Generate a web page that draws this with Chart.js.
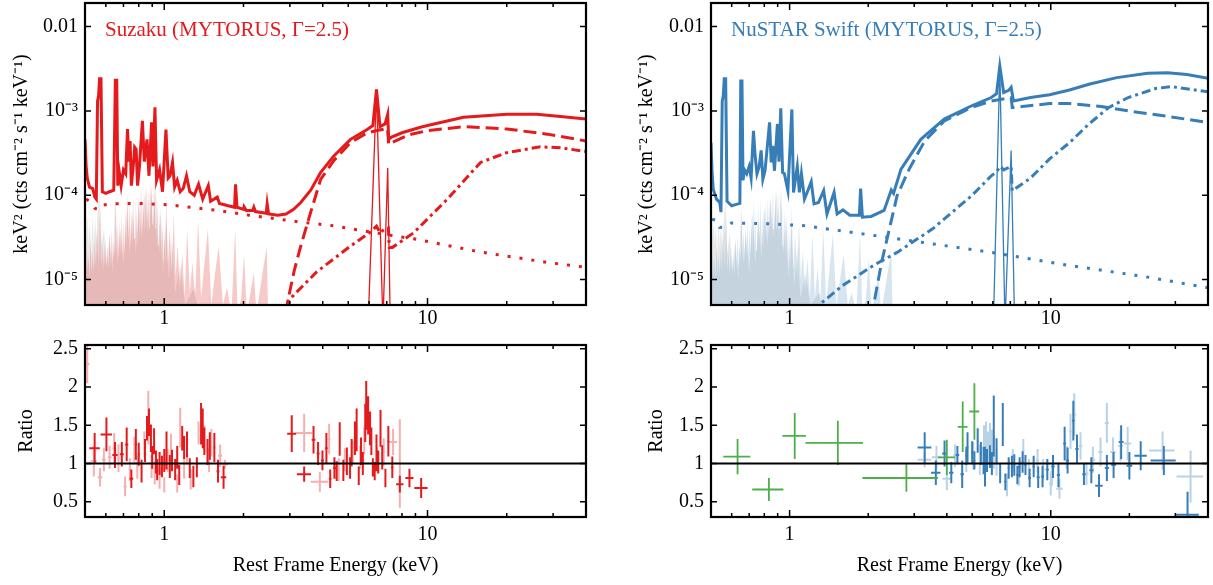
<!DOCTYPE html>
<html>
<head>
<meta charset="utf-8">
<script src="https://cdn.jsdelivr.net/npm/chart.js@4.4.1/dist/chart.umd.min.js"></script>
<style>
body{margin:0;background:#fff;width:1213px;height:585px;position:relative;overflow:hidden}
.box{position:absolute}
</style>
</head>
<body>
<div class="box" style="left:0;top:0;width:600px;height:335px"><canvas id="suzTop"></canvas></div>
<div class="box" style="left:0;top:335px;width:600px;height:250px"><canvas id="suzRatio"></canvas></div>
<div class="box" style="left:610px;top:0;width:603px;height:335px"><canvas id="nuTop"></canvas></div>
<div class="box" style="left:610px;top:335px;width:603px;height:250px"><canvas id="nuRatio"></canvas></div>
<script>
// axis ranges and ticks
const xRange = [0.5, 40];
const fluxRange = [5e-6, 0.019];
const ratioRange = [0.3, 2.55];
const xTicks = [0.5,0.6,0.7,0.8,0.9,1,2,3,4,5,6,7,8,9,10,20,30,40];
const fluxTicks = [1e-5,1e-4,1e-3,1e-2];
const fluxLabels = ['10⁻⁵','10⁻⁴','10⁻³','0.01'];
const ratioTicks = [0.5,1,1.5,2,2.5];

// Suzaku model components [keV, flux]
const suzTotal = [[0.500,4.6e-4],[0.505,2.2e-4],[0.510,1.6e-4],[0.520,1.25e-4],[0.535,1.2e-4],[0.545,9.5e-5],[0.552,9e-5],[0.558,1.3e-3],[0.563,1.5e-3],[0.568,2.4e-3],[0.575,2.4e-3],[0.582,1.1e-4],[0.600,1.05e-4],[0.620,1.1e-4],[0.643,1.15e-4],[0.652,2.3e-3],[0.660,2.3e-3],[0.666,1.3e-4],[0.673,2.0e-4],[0.686,1.3e-4],[0.700,2.0e-4],[0.714,1.8e-4],[0.725,6.1e-4],[0.735,2.5e-4],[0.742,4.4e-4],[0.750,1.3e-4],[0.765,2.5e-4],[0.772,3.7e-4],[0.782,3.5e-4],[0.792,1.3e-4],[0.805,2.2e-4],[0.826,7.6e-4],[0.840,2.5e-4],[0.860,4.6e-4],[0.875,1.7e-4],[0.895,7.3e-4],[0.906,2.2e-4],[0.922,1.1e-3],[0.935,1.5e-4],[0.960,2.0e-4],[0.985,1.1e-4],[1.015,6.0e-4],[1.035,1.6e-4],[1.052,1.7e-4],[1.075,2.45e-4],[1.095,1.25e-4],[1.120,1.5e-4],[1.150,1.1e-4],[1.180,1.2e-4],[1.215,1.7e-4],[1.250,1.1e-4],[1.300,1.0e-4],[1.350,1.35e-4],[1.400,9e-5],[1.470,1.3e-4],[1.500,8.5e-5],[1.590,9.5e-5],[1.620,8e-5],[1.750,7.5e-5],[1.850,7.2e-5],[1.865,1.35e-4],[1.890,7.2e-5],[2.000,6.8e-5],[2.010,7.3e-5],[2.050,6.6e-5],[2.170,6.6e-5],[2.190,7.2e-5],[2.220,6.4e-5],[2.440,6.1e-5],[2.460,7.9e-5],[2.490,6e-5],[2.700,5.8e-5],[2.900,6e-5],[3.100,6.8e-5],[3.300,8.2e-5],[3.600,1.15e-4],[3.930,1.87e-4],[4.400,2.9e-4],[5.100,4.6e-4],[5.900,6e-4],[6.200,6.7e-4],[6.400,1.8e-3],[6.600,6.5e-4],[6.900,7.0e-4],[7.060,9.1e-4],[7.120,4.6e-4],[7.300,4.9e-4],[8.000,5.5e-4],[9.400,6.4e-4],[10.00,6.7e-4],[13.70,8.4e-4],[20.00,9.1e-4],[26.00,9.1e-4],[32.00,8.6e-4],[40.00,8e-4]];
const suzDash = [[2.90,4e-6],[2.94,5.4e-6],[3.11,1.24e-5],[3.30,2.5e-5],[3.60,6.3e-5],[3.93,1.55e-4],[4.42,2.6e-4],[5.10,4.2e-4],[5.90,5.5e-4],[6.50,5.9e-4],[7.05,6.2e-4],[7.12,4.0e-4],[7.30,4.2e-4],[8.50,5.2e-4],[9.90,5.8e-4],[13.7,6.5e-4],[20.0,6.1e-4],[28.5,5.3e-4],[40.0,4.4e-4]];
const suzDashDot = [[2.95,4.5e-6],[2.97,5.7e-6],[3.80,1.24e-5],[5.10,2.5e-5],[6.10,3.7e-5],[6.40,4.3e-5],[6.60,3.6e-5],[6.90,4.0e-5],[7.10,4.1e-5],[7.16,2.4e-5],[7.35,2.4e-5],[8.87,3.6e-5],[11.9,9.0e-5],[15.9,2.45e-4],[20.0,3.2e-4],[26.8,3.75e-4],[32.0,3.65e-4],[40.0,3.3e-4]];
const suzDot = [[0.505,9e-5],[0.520,8.5e-5],[0.545,7e-5],[0.560,6.8e-5],[0.575,7.6e-5],[0.630,7.9e-5],[0.800,8e-5],[1.040,7.7e-5],[1.600,6.6e-5],[2.100,5.8e-5],[3.300,4.8e-5],[4.400,4.35e-5],[7.900,3.2e-5],[8.870,3.05e-5],[15.90,2.12e-5],[28.50,1.6e-5],[40.00,1.4e-5]];
const suzFe = [[5.95,3e-6],[6.40,1.75e-3],[6.77,3e-6],[7.06,2.1e-4],[7.22,3e-6]];
const suzGray = [[0.500,5e-5],[0.503,9e-5],[0.507,3e-5],[0.512,6e-5],[0.517,2.5e-5],[0.522,5e-5],[0.528,2e-5],[0.534,6e-5],[0.540,2.5e-5],[0.546,5.5e-5],[0.552,3e-5],[0.560,7e-5],[0.568,1.2e-4],[0.576,2.5e-5],[0.590,4e-5],[0.605,1.5e-5],[0.620,3.5e-5],[0.636,1.2e-5],[0.652,1e-4],[0.664,1.5e-5],[0.680,4e-5],[0.700,1.5e-5],[0.722,8e-5],[0.738,2e-5],[0.760,6e-5],[0.780,2e-5],[0.800,9e-5],[0.822,3e-5],[0.845,1.1e-4],[0.865,3.5e-5],[0.890,1.3e-4],[0.910,4e-5],[0.925,1.4e-4],[0.945,2.5e-5],[0.970,7e-5],[0.990,1.2e-5],[1.015,6e-5],[1.040,1e-5],[1.070,3e-5],[1.100,7e-6],[1.150,1.5e-5],[1.200,5e-6],[1.300,8e-6],[1.350,4e-6]];
const suzPink = [[0.500,2e-5],[0.504,1.2e-5],[0.508,2.5e-5],[0.512,1.3e-5],[0.516,2e-5],[0.520,1.1e-5],[0.525,3e-5],[0.530,1.2e-5],[0.535,2.2e-5],[0.540,1.2e-5],[0.545,3e-5],[0.550,1.4e-5],[0.556,4e-5],[0.562,1.5e-5],[0.566,6e-5],[0.570,1.6e-5],[0.574,8e-5],[0.578,1.4e-5],[0.584,2.5e-5],[0.590,1.3e-5],[0.596,3e-5],[0.602,1.4e-5],[0.608,2.5e-5],[0.614,1.3e-5],[0.620,3.5e-5],[0.626,1.5e-5],[0.632,4e-5],[0.638,1.6e-5],[0.644,3e-5],[0.650,1.8e-5],[0.655,9e-5],[0.660,2e-5],[0.666,4.5e-5],[0.672,1.8e-5],[0.678,5e-5],[0.684,2e-5],[0.690,6e-5],[0.696,2e-5],[0.702,5e-5],[0.708,2e-5],[0.714,7e-5],[0.720,2.5e-5],[0.726,1.1e-4],[0.732,3e-5],[0.738,8e-5],[0.744,2.5e-5],[0.750,7e-5],[0.756,2.5e-5],[0.762,9e-5],[0.768,3e-5],[0.774,1e-4],[0.780,3e-5],[0.786,7e-5],[0.792,2.5e-5],[0.798,9e-5],[0.804,3e-5],[0.810,1.1e-4],[0.816,3.5e-5],[0.822,1.2e-4],[0.828,4e-5],[0.834,1e-4],[0.840,3.5e-5],[0.846,1.3e-4],[0.852,4e-5],[0.858,1.4e-4],[0.864,5e-5],[0.870,1.2e-4],[0.876,4e-5],[0.882,1.5e-4],[0.888,5e-5],[0.894,1.5e-4],[0.900,4.5e-5],[0.906,1.3e-4],[0.912,5e-5],[0.918,1.5e-4],[0.924,4e-5],[0.930,1.4e-4],[0.936,3e-5],[0.942,9e-5],[0.948,2.5e-5],[0.955,8e-5],[0.962,2e-5],[0.970,6e-5],[0.978,1.8e-5],[0.986,5e-5],[0.994,1.5e-5],[1.002,4e-5],[1.010,1.5e-5],[1.018,9e-5],[1.032,1.5e-5],[1.050,4e-5],[1.068,1.2e-5],[1.086,6e-5],[1.104,1.1e-5],[1.124,2.5e-5],[1.146,8e-6],[1.170,2e-5],[1.196,6e-6],[1.222,4e-5],[1.250,7e-6],[1.280,1.6e-5],[1.310,6e-6],[1.345,5e-5],[1.380,6e-6],[1.420,1.5e-5],[1.465,4e-5],[1.510,5e-6],[1.560,1.2e-5],[1.610,2.5e-5],[1.670,5e-6],[1.730,8e-6],[1.800,4e-6],[1.860,4e-5],[1.900,4e-6],[1.960,6e-6],[2.010,2e-5],[2.060,4e-6],[2.190,1.2e-5],[2.240,4e-6],[2.450,2.5e-5],[2.480,4e-6],[2.600,4e-6]];

// NuSTAR/Swift model components [keV, flux]
const nuTotal = [[0.500,4.2e-4],[0.505,1.8e-4],[0.510,1.18e-4],[0.525,9e-5],[0.540,8.2e-5],[0.546,6.3e-5],[0.552,1.3e-3],[0.557,1.5e-3],[0.562,2.4e-3],[0.569,2.4e-3],[0.576,8.5e-5],[0.600,7.5e-5],[0.625,7.8e-5],[0.645,8e-5],[0.650,2.26e-3],[0.657,2.26e-3],[0.663,1.5e-4],[0.672,2.0e-4],[0.685,1.8e-4],[0.700,2.2e-4],[0.712,1.6e-4],[0.727,5.8e-4],[0.737,3.1e-4],[0.750,1.8e-4],[0.765,2.2e-4],[0.778,3.4e-4],[0.790,1.55e-4],[0.805,1.95e-4],[0.838,7.3e-4],[0.850,2.45e-4],[0.862,3.85e-4],[0.875,1.95e-4],[0.898,7e-4],[0.910,2.5e-4],[0.925,1.07e-3],[0.940,1.86e-4],[0.955,1.8e-4],[0.985,1.13e-4],[1.020,1.04e-3],[1.035,1.08e-4],[1.070,2.2e-4],[1.090,1.08e-4],[1.110,1.8e-4],[1.140,9e-5],[1.170,1.1e-4],[1.210,1.45e-4],[1.240,7.9e-5],[1.290,8.2e-5],[1.350,1.13e-4],[1.390,6e-5],[1.480,1.08e-4],[1.520,6e-5],[1.600,6.7e-5],[1.700,5.8e-5],[1.850,5.8e-5],[1.870,1.2e-4],[1.900,5.5e-5],[2.050,5.6e-5],[2.300,6.6e-5],[2.450,1.15e-4],[2.500,1.05e-4],[2.670,2.04e-4],[3.180,4.6e-4],[3.910,8e-4],[4.980,1.15e-3],[5.920,1.44e-3],[6.200,1.6e-3],[6.380,3.4e-3],[6.600,1.65e-3],[6.900,1.75e-3],[7.050,1.9e-3],[7.200,1.31e-3],[8.370,1.44e-3],[9.900,1.55e-3],[11.80,1.77e-3],[14.00,2.07e-3],[17.90,2.48e-3],[23.50,2.79e-3],[28.00,2.83e-3],[33.20,2.7e-3],[40.00,2.44e-3]];
const nuDash = [[2.05,3.5e-6],[2.10,5.1e-6],[2.25,1.6e-5],[2.41,4e-5],[2.58,9.9e-5],[2.87,2.04e-4],[3.29,4.4e-4],[3.91,7.6e-4],[4.98,1.1e-3],[5.92,1.31e-3],[7.05,1.44e-3],[7.12,1.1e-3],[7.20,1.1e-3],[9.90,1.22e-3],[11.8,1.22e-3],[15.6,1.13e-3],[19.8,1e-3],[28.0,8.6e-4],[40.0,7.3e-4]];
const nuDashDot = [[1.25,4e-6],[1.295,5e-6],[1.594,8.5e-6],[2.10,1.48e-5],[2.58,2.1e-5],[3.53,4e-5],[4.98,9.9e-5],[5.92,1.7e-4],[6.20,1.9e-4],[6.40,2.2e-4],[6.60,2.0e-4],[7.05,2.2e-4],[7.12,1.13e-4],[8.37,1.6e-4],[9.90,2.7e-4],[11.8,4.2e-4],[14.0,7e-4],[16.7,1.1e-3],[19.8,1.44e-3],[25.2,1.84e-3],[29.0,1.94e-3],[40.0,1.68e-3]];
const nuDot = [[0.505,5.2e-5],[0.528,5e-5],[0.540,4.15e-5],[0.560,4.2e-5],[0.600,4.7e-5],[0.826,4.6e-5],[1.125,4.37e-5],[1.770,3.6e-5],[2.960,2.87e-5],[5.920,2.1e-5],[11.80,1.47e-5],[23.50,1.07e-5],[40.00,8e-6]];
const nuFe = [[6.03,3e-6],[6.38,3.3e-3],[6.68,3e-6],[7.05,3.4e-4],[7.27,3e-6]];
const nuGray = [[0.500,5e-5],[0.503,8e-5],[0.507,3e-5],[0.512,5e-5],[0.517,2.5e-5],[0.522,4.5e-5],[0.528,2e-5],[0.534,5e-5],[0.540,2.5e-5],[0.546,4.5e-5],[0.552,2.5e-5],[0.560,5e-5],[0.568,9e-5],[0.576,2e-5],[0.590,3.5e-5],[0.605,1.2e-5],[0.620,3e-5],[0.636,1e-5],[0.652,7e-5],[0.664,1.5e-5],[0.680,3.5e-5],[0.700,1.2e-5],[0.722,6e-5],[0.738,1.5e-5],[0.760,5e-5],[0.780,1.8e-5],[0.800,7e-5],[0.822,2.5e-5],[0.845,9e-5],[0.865,3e-5],[0.890,1.1e-4],[0.910,3e-5],[0.925,1.2e-4],[0.945,2e-5],[0.970,6e-5],[0.990,1e-5],[1.015,5e-5],[1.040,8e-6],[1.070,2.5e-5],[1.100,6e-6],[1.150,1.2e-5],[1.200,5e-6],[1.300,7e-6],[1.350,4e-6]];
const nuBlue = [[0.500,1.8e-5],[0.504,1e-5],[0.508,2.2e-5],[0.512,1.1e-5],[0.516,1.8e-5],[0.520,1e-5],[0.525,2.5e-5],[0.530,1.1e-5],[0.535,2e-5],[0.540,1.1e-5],[0.545,2.5e-5],[0.550,1.2e-5],[0.556,3.5e-5],[0.562,1.3e-5],[0.566,5e-5],[0.570,1.4e-5],[0.574,6.5e-5],[0.578,1.2e-5],[0.584,2.2e-5],[0.590,1.1e-5],[0.596,2.5e-5],[0.602,1.2e-5],[0.608,2.2e-5],[0.614,1.1e-5],[0.620,3e-5],[0.626,1.3e-5],[0.632,3.5e-5],[0.638,1.4e-5],[0.644,2.5e-5],[0.650,1.5e-5],[0.655,7.5e-5],[0.660,1.8e-5],[0.666,4e-5],[0.672,1.6e-5],[0.678,4.5e-5],[0.684,1.8e-5],[0.690,5e-5],[0.696,1.8e-5],[0.702,4.5e-5],[0.708,1.8e-5],[0.714,6e-5],[0.720,2.2e-5],[0.726,9e-5],[0.732,2.5e-5],[0.738,7e-5],[0.744,2.2e-5],[0.750,6e-5],[0.756,2.2e-5],[0.762,8e-5],[0.768,2.5e-5],[0.774,9e-5],[0.780,2.5e-5],[0.786,6e-5],[0.792,2.2e-5],[0.798,8e-5],[0.804,2.5e-5],[0.810,9e-5],[0.816,3e-5],[0.822,1e-4],[0.828,3.5e-5],[0.834,9e-5],[0.840,3e-5],[0.846,1.1e-4],[0.852,3.5e-5],[0.858,1.2e-4],[0.864,4e-5],[0.870,1.1e-4],[0.876,3.5e-5],[0.882,1.25e-4],[0.888,4e-5],[0.894,1.25e-4],[0.900,4e-5],[0.906,1.1e-4],[0.912,4e-5],[0.918,1.2e-4],[0.924,3.5e-5],[0.930,1.2e-4],[0.936,2.5e-5],[0.942,8e-5],[0.948,2.2e-5],[0.955,7e-5],[0.962,1.8e-5],[0.970,5e-5],[0.978,1.6e-5],[0.986,4.5e-5],[0.994,1.3e-5],[1.002,3.5e-5],[1.010,1.3e-5],[1.018,8e-5],[1.032,1.3e-5],[1.050,3.5e-5],[1.068,1e-5],[1.086,5e-5],[1.104,1e-5],[1.124,2.2e-5],[1.146,7e-6],[1.170,1.8e-5],[1.196,6e-6],[1.222,3.5e-5],[1.250,6e-6],[1.280,1.4e-5],[1.310,5e-6],[1.345,4e-5],[1.380,5e-6],[1.420,1.3e-5],[1.465,3.5e-5],[1.510,5e-6],[1.560,1e-5],[1.610,2e-5],[1.670,5e-6],[1.730,7e-6],[1.800,4e-6],[1.860,3.5e-5],[1.900,4e-6],[1.960,6e-6],[2.010,1.8e-5],[2.060,4e-6],[2.190,1.1e-5],[2.240,4e-6],[2.450,2.2e-5],[2.480,4e-6],[2.600,4e-6]];

// ratio points [keV, keV half-width, ratio, ratio error]
const xisDark = [[0.544,0.025,1.20,0.20],[0.603,0.030,1.38,0.22],[0.650,0.015,1.11,0.17],[0.690,0.012,1.12,0.16],[0.720,0.010,1.25,0.22],[0.750,0.012,0.80,0.12],[0.780,0.008,1.25,0.20],[0.800,0.008,1.12,0.15],[0.820,0.006,0.90,0.15],[0.845,0.005,1.17,0.15],[0.860,0.004,1.46,0.16],[0.875,0.004,1.54,0.18],[0.890,0.004,1.33,0.18],[0.900,0.004,1.08,0.15],[0.915,0.004,1.29,0.17],[0.930,0.004,1.02,0.15],[0.940,0.004,0.92,0.14],[0.960,0.005,1.00,0.15],[0.980,0.005,0.96,0.14],[1.000,0.005,1.04,0.15],[1.020,0.006,1.17,0.25],[1.050,0.006,0.96,0.15],[1.070,0.006,1.04,0.14],[1.100,0.007,0.92,0.14],[1.120,0.007,1.08,0.15],[1.140,0.007,0.85,0.13],[1.170,0.007,1.33,0.16],[1.190,0.008,1.21,0.15],[1.220,0.008,1.25,0.17],[1.250,0.008,0.94,0.13],[1.290,0.010,0.83,0.14],[1.330,0.010,0.95,0.13],[1.380,0.008,1.52,0.27],[1.400,0.008,1.46,0.26],[1.420,0.010,1.29,0.18],[1.460,0.010,1.15,0.17],[1.490,0.012,1.23,0.18],[1.550,0.015,1.21,0.19],[1.600,0.020,0.90,0.15],[1.680,0.040,0.82,0.15],[3.05,0.12,1.39,0.24],[3.40,0.21,0.86,0.10],[3.69,0.06,1.31,0.18],[3.84,0.05,1.13,0.15],[3.99,0.05,1.04,0.13],[4.13,0.05,1.20,0.20],[4.27,0.05,0.80,0.12],[4.43,0.05,0.94,0.14],[4.52,0.04,0.90,0.13],[4.64,0.04,1.32,0.22],[4.79,0.04,0.91,0.14],[4.94,0.04,1.03,0.18],[5.08,0.04,0.94,0.14],[5.15,0.04,1.14,0.18],[5.30,0.04,1.33,0.22],[5.38,0.04,1.44,0.28],[5.48,0.04,0.84,0.12],[5.59,0.04,1.16,0.18],[5.68,0.04,1.00,0.15],[5.80,0.04,1.53,0.25],[5.85,0.04,1.76,0.32],[5.95,0.04,1.63,0.25],[6.05,0.04,1.46,0.22],[6.12,0.04,1.29,0.18],[6.20,0.04,0.95,0.12],[6.30,0.04,0.90,0.12],[6.40,0.05,1.14,0.24],[6.50,0.05,1.02,0.15],[6.63,0.05,1.46,0.24],[6.73,0.05,1.08,0.16],[6.92,0.06,0.81,0.12],[7.10,0.07,1.29,0.20],[7.35,0.08,0.95,0.14],[7.85,0.25,0.73,0.11],[8.54,0.30,0.81,0.12],[9.46,0.55,0.68,0.13]];
const xisLight = [[0.510,0.010,2.30,0.25],[0.540,0.015,1.03,0.20],[0.570,0.012,0.82,0.12],[0.590,0.010,1.05,0.15],[0.620,0.010,1.08,0.15],[0.645,0.010,1.20,0.20],[0.670,0.008,1.07,0.18],[0.710,0.010,0.70,0.13],[0.740,0.008,0.92,0.15],[0.770,0.008,1.17,0.18],[0.790,0.008,0.95,0.15],[0.840,0.006,1.25,0.17],[0.870,0.005,1.60,0.35],[0.895,0.005,0.96,0.15],[0.920,0.005,0.88,0.15],[0.960,0.006,0.81,0.14],[1.000,0.006,0.72,0.10],[1.030,0.006,1.04,0.15],[1.060,0.006,1.21,0.18],[1.120,0.007,0.74,0.12],[1.150,0.007,1.47,0.26],[1.190,0.008,0.94,0.14],[1.220,0.008,1.15,0.16],[1.260,0.010,0.79,0.13],[1.350,0.010,1.40,0.15],[1.420,0.010,1.33,0.17],[1.480,0.012,1.04,0.15],[1.510,0.012,1.27,0.18],[1.630,0.030,1.10,0.15],[1.700,0.050,0.99,0.06],[3.40,0.25,1.40,0.25],[3.90,0.30,0.76,0.13],[4.23,0.05,1.32,0.20],[4.60,0.05,0.92,0.15],[4.85,0.05,1.05,0.15],[5.20,0.05,1.15,0.15],[5.30,0.05,1.26,0.15],[5.55,0.05,1.08,0.15],[5.75,0.05,1.30,0.18],[6.43,0.06,1.06,0.15],[6.82,0.08,1.15,0.18],[7.40,0.25,1.28,0.17],[7.85,0.10,1.00,0.58]];
const fpmaPts = [[3.29,0.20,1.21,0.20],[3.63,0.15,0.88,0.16],[3.92,0.08,1.13,0.17],[4.16,0.08,0.88,0.14],[4.39,0.07,1.11,0.12],[4.58,0.07,0.86,0.18],[4.75,0.05,1.10,0.12],[4.80,0.05,1.21,0.20],[5.00,0.05,1.14,0.15],[5.10,0.05,1.04,0.12],[5.25,0.05,1.30,0.16],[5.40,0.05,1.13,0.15],[5.53,0.05,1.04,0.18],[5.60,0.05,0.96,0.26],[5.70,0.05,1.04,0.15],[5.85,0.05,1.09,0.15],[5.95,0.05,1.00,0.15],[6.05,0.05,1.49,0.40],[6.20,0.05,1.17,0.16],[6.40,0.06,0.87,0.13],[6.55,0.06,1.51,0.28],[6.70,0.07,0.76,0.11],[6.90,0.07,0.94,0.14],[7.10,0.07,0.96,0.14],[7.25,0.07,0.98,0.14],[7.45,0.08,0.85,0.12],[7.60,0.08,0.95,0.13],[7.80,0.08,1.02,0.14],[8.00,0.09,0.98,0.13],[8.30,0.10,0.81,0.12],[8.60,0.10,0.96,0.14],[8.95,0.12,0.82,0.14],[9.30,0.12,0.83,0.14],[9.70,0.13,0.92,0.14],[10.2,0.15,0.96,0.15],[10.7,0.15,0.85,0.16],[11.3,0.15,1.26,0.22],[11.6,0.15,1.04,0.17],[12.2,0.15,1.56,0.26],[12.6,0.18,1.19,0.19],[13.4,0.20,0.86,0.14],[14.3,0.25,0.91,0.17],[15.3,0.50,0.71,0.15],[16.4,0.30,0.94,0.17],[17.4,0.35,0.98,0.17],[18.6,0.40,1.28,0.22],[20.0,0.50,0.97,0.18],[22.1,1.20,1.10,0.19],[27.1,3.00,1.04,0.19],[33.4,3.50,0.33,0.30]];
const fpmbPts = [[3.29,0.20,1.05,0.10],[3.65,0.15,1.08,0.15],[4.00,0.15,0.80,0.15],[4.30,0.07,1.10,0.15],[4.75,0.05,1.04,0.15],[5.05,0.05,1.10,0.18],[5.35,0.05,1.05,0.20],[5.55,0.04,1.25,0.25],[5.65,0.04,1.30,0.25],[5.75,0.04,1.20,0.22],[5.85,0.04,1.28,0.25],[5.95,0.04,1.22,0.22],[6.05,0.04,1.15,0.22],[6.20,0.05,1.02,0.18],[6.80,0.07,0.72,0.15],[7.15,0.07,1.04,0.15],[7.55,0.08,0.85,0.14],[7.85,0.08,1.17,0.15],[8.25,0.10,0.92,0.14],[8.90,0.12,1.04,0.15],[9.35,0.12,0.92,0.14],[10.0,0.14,0.74,0.16],[10.1,0.15,0.85,0.14],[10.8,0.30,0.67,0.13],[11.5,0.15,1.08,0.15],[11.9,0.15,1.42,0.23],[12.3,0.20,1.64,0.28],[13.0,0.20,1.23,0.18],[13.7,0.25,0.87,0.15],[14.5,0.30,1.05,0.17],[15.5,0.30,1.15,0.19],[16.4,0.30,1.53,0.26],[17.3,0.40,1.15,0.19],[18.5,0.40,1.23,0.20],[19.7,0.60,1.26,0.22],[26.8,3.00,1.17,0.25],[34.3,4.00,0.83,0.34]];
const xrtPts = [[0.632,0.075,1.09,0.23],[0.833,0.114,0.66,0.15],[1.046,0.108,1.36,0.30],[1.53,0.38,1.27,0.29],[2.80,0.90,0.81,0.18],[4.00,0.30,1.08,0.23],[4.60,0.20,1.48,0.33],[5.10,0.22,1.68,0.37]];

const FONT = "'Liberation Serif', 'Times New Roman', Times, serif";
const RED = '#e41a1c', RED_LT = 'rgba(228,26,28,0.35)';
const BLUE = '#377eb8', BLUE_LT = 'rgba(55,126,184,0.35)';
const GREEN = '#4daf4a';
Chart.defaults.font.family = FONT;
Chart.defaults.color = '#000';

const xy = pairs => pairs.map(([x, y]) => ({x, y}));

// each point becomes a horizontal and a vertical segment, broken by nulls
function crosses(rows) {
  const out = [];
  rows.forEach(([e, de, r, dr]) => {
    out.push({x: e - de, y: r}, {x: e + de, y: r}, {x: e, y: null},
             {x: e, y: r - dr}, {x: e, y: r + dr}, {x: e, y: null});
  });
  return out;
}

function line(data, color, width, dash) {
  return {data, borderColor: color, borderWidth: width, borderDash: dash || [],
          pointRadius: 0, fill: false, tension: 0, borderCapStyle: 'butt'};
}
function area(data, color) {
  return {data, borderColor: 'rgba(0,0,0,0)', borderWidth: 0, backgroundColor: color,
          pointRadius: 0, fill: 'start', tension: 0};
}

// inward minor/major ticks and a closed frame, like the original plots
const frameTicks = {
  id: 'frameTicks',
  afterDatasetsDraw(chart) {
    const {ctx, chartArea: a, scales: {x, y}} = chart;
    ctx.save();
    ctx.strokeStyle = '#000';
    ctx.lineWidth = 1.5;
    ctx.beginPath();
    x.ticks.forEach(t => {
      const p = x.getPixelForValue(t.value);
      const l = t.label ? 7 : 4;
      ctx.moveTo(p, a.bottom); ctx.lineTo(p, a.bottom - l);
      ctx.moveTo(p, a.top); ctx.lineTo(p, a.top + l);
    });
    y.ticks.forEach(t => {
      const p = y.getPixelForValue(t.value);
      ctx.moveTo(a.left, p); ctx.lineTo(a.left + 6, p);
      ctx.moveTo(a.right, p); ctx.lineTo(a.right - 6, p);
    });
    ctx.stroke();
    ctx.lineWidth = 2.2;
    ctx.strokeRect(a.left, a.top, a.width, a.height);
    ctx.restore();
  }
};

const panelLabel = {
  id: 'panelLabel',
  afterDraw(chart, args, o) {
    if (!o.text) return;
    const {ctx, chartArea: a} = chart;
    ctx.save();
    ctx.font = '21px ' + FONT;
    ctx.fillStyle = o.color;
    ctx.textBaseline = 'alphabetic';
    ctx.fillText(o.text, a.left + 20, a.top + 33);
    ctx.restore();
  }
};

function xScale(bottomPanel) {
  return {
    type: 'logarithmic', min: xRange[0], max: xRange[1],
    afterBuildTicks: s => { s.ticks = xTicks.map(v => ({value: v})); },
    afterFit: s => { s.height = bottomPanel ? 68 : 30; s.paddingLeft = 0; s.paddingRight = 0; },
    grid: {display: false, drawTicks: false}, border: {display: false},
    ticks: {autoSkip: false, maxRotation: 0, padding: bottomPanel ? 6 : 2, font: {size: 20},
      callback: v => (v === 1 ? '1' : v === 10 ? '10' : '')},
    title: {display: bottomPanel, text: 'Rest Frame Energy (keV)', font: {size: 20}, padding: {top: 0, bottom: 7}}
  };
}

function yFlux(width, titlePad) {
  return {
    type: 'logarithmic', min: fluxRange[0], max: fluxRange[1],
    afterBuildTicks: s => { s.ticks = fluxTicks.map(v => ({value: v})); },
    afterFit: s => { s.width = width; s.paddingTop = 0; s.paddingBottom = 0; },
    grid: {display: false, drawTicks: false}, border: {display: false},
    ticks: {padding: 7, font: {size: 20}, callback: v => fluxLabels[fluxTicks.indexOf(v)]},
    title: {display: true, text: 'keV² (cts cm⁻² s⁻¹ keV⁻¹)', font: {size: 20}, padding: {top: titlePad, bottom: 0}}
  };
}

function yRatio(width, titlePad) {
  return {
    type: 'linear', min: ratioRange[0], max: ratioRange[1],
    afterBuildTicks: s => { s.ticks = ratioTicks.map(v => ({value: v})); },
    afterFit: s => { s.width = width; s.paddingTop = 0; s.paddingBottom = 0; },
    grid: {display: false, drawTicks: false}, border: {display: false},
    ticks: {padding: 7, font: {size: 20}, callback: v => String(v)},
    title: {display: true, text: 'Ratio', font: {size: 20}, padding: {top: titlePad, bottom: 0}}
  };
}

function makeChart(id, datasets, scales, padding, label) {
  return new Chart(document.getElementById(id), {
    type: 'line',
    data: {datasets},
    options: {
      responsive: true, maintainAspectRatio: false, animation: false, events: [],
      parsing: true, spanGaps: false,
      layout: {padding},
      scales,
      plugins: {legend: {display: false}, tooltip: {enabled: false},
                panelLabel: label || {}}
    },
    plugins: [frameTicks, panelLabel]
  });
}

const unity = [{x: xRange[0], y: 1}, {x: xRange[1], y: 1}];

makeChart('suzTop', [
  line(xy(suzTotal), RED, 3),
  line(xy(suzFe), RED, 1.3),
  line(xy(suzDash), RED, 3, [13, 6]),
  line(xy(suzDashDot), RED, 3, [9, 4, 3, 4]),
  line(xy(suzDot), RED, 3, [3, 9]),
  area(xy(suzPink), 'rgba(230,60,60,0.28)'),
  area(xy(suzGray), 'rgba(150,150,150,0.22)')
], {x: xScale(false), y: yFlux(85, 10)}, {left: 0, top: 3, right: 14, bottom: 0},
  {text: 'Suzaku (MYTORUS, Γ=2.5)', color: RED});

makeChart('suzRatio', [
  line(unity, '#000', 1.8),
  line(crosses(xisDark), RED, 2),
  line(crosses(xisLight), RED_LT, 2)
], {x: xScale(true), y: yRatio(85, 15)}, {left: 0, top: 10, right: 14, bottom: 0});

makeChart('nuTop', [
  line(xy(nuTotal), BLUE, 3),
  line(xy(nuFe), BLUE, 1.3),
  line(xy(nuDash), BLUE, 3, [13, 6]),
  line(xy(nuDashDot), BLUE, 3, [9, 4, 3, 4]),
  line(xy(nuDot), BLUE, 3, [3, 9]),
  area(xy(nuBlue), 'rgba(55,126,184,0.2)'),
  area(xy(nuGray), 'rgba(150,150,150,0.22)')
], {x: xScale(false), y: yFlux(101, 25)}, {left: 0, top: 3, right: 5, bottom: 0},
  {text: 'NuSTAR Swift (MYTORUS, Γ=2.5)', color: BLUE});

makeChart('nuRatio', [
  line(unity, '#000', 1.8),
  line(crosses(xrtPts), GREEN, 1.8),
  line(crosses(fpmaPts), BLUE, 2),
  line(crosses(fpmbPts), BLUE_LT, 2)
], {x: xScale(true), y: yRatio(101, 35)}, {left: 0, top: 10, right: 5, bottom: 0});
</script>
</body>
</html>
